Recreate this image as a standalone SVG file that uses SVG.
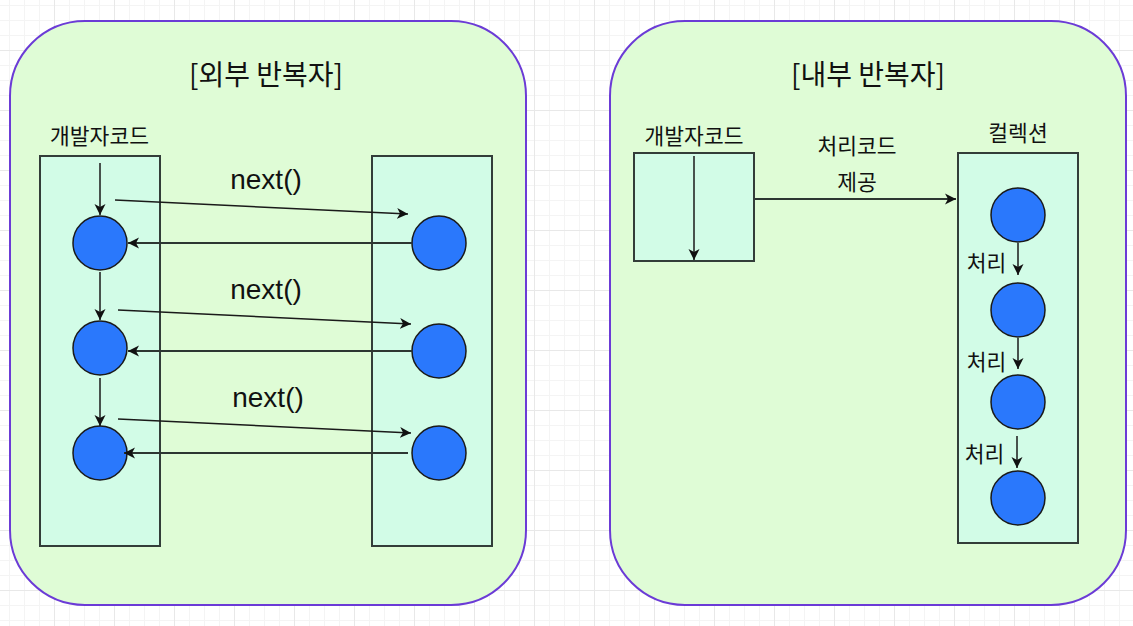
<svg xmlns="http://www.w3.org/2000/svg" width="1133" height="626" viewBox="0 0 1133 626">
<style>
.panel{fill:#dffcd6;stroke:#6b3bd6;stroke-width:2}
.box{fill:#d2fce7;stroke:#333d39;stroke-width:2}
.dot{fill:#2a78fc;stroke:#1a1a1a;stroke-width:1.5}
.kr{font-family:"Noto Sans CJK KR","Noto Sans",sans-serif;fill:#111;text-anchor:middle}
.t{font-size:28px}
.l{font-size:21.5px}
.nx{font-family:"Liberation Sans",Arial,sans-serif;font-size:28px;fill:#111;text-anchor:middle}
.c{fill:none;stroke:#1a1a1a;stroke-width:1.5;marker-end:url(#ah)}
.r{fill:none;stroke:#2d3632;stroke-width:2;marker-end:url(#ah)}
</style>
<defs>
<pattern id="grid" x="54" y="50" width="60" height="60" patternUnits="userSpaceOnUse">
<path d="M15.5,0V60M30.5,0V60M45.5,0V60M0,15.5H60M0,30.5H60M0,45.5H60" stroke="#f4f4f4" stroke-width="1" fill="none"/>
<path d="M0.5,0V60M0,0.5H60" stroke="#e8e8e8" stroke-width="1" fill="none"/>
</pattern>
<marker id="ah" viewBox="0 0 12 12" refX="11" refY="6" markerWidth="12" markerHeight="12" markerUnits="userSpaceOnUse" orient="auto">
<path d="M0,0.5 L11,6 L0,11.5 L3,6 z" fill="#111"/>
</marker>
</defs>
<rect width="1133" height="626" fill="#ffffff"/>
<rect width="1133" height="626" fill="url(#grid)"/>

<g id="panel-external"><rect class="panel" x="10" y="21" width="516" height="584" rx="75" ry="75"/></g>
<g id="panel-internal"><rect class="panel" x="610" y="21" width="516" height="584" rx="75" ry="75"/></g>

<g id="title-external"><text class="kr t" x="266" y="85">[외부 반복자]</text></g>
<g id="title-internal"><text class="kr t" x="868" y="85">[내부 반복자]</text></g>

<g id="ext-devcode">
<text class="kr l" x="99.5" y="144">개발자코드</text>
<rect class="box" x="40" y="156" width="120" height="390"/>
</g>
<g id="ext-collection"><rect class="box" x="372" y="156" width="120" height="390"/></g>

<g id="ext-dev-1"><circle class="dot" cx="100" cy="243" r="27"/></g>
<g id="ext-dev-2"><circle class="dot" cx="100" cy="348" r="27"/></g>
<g id="ext-dev-3"><circle class="dot" cx="100" cy="453" r="27"/></g>
<g id="ext-col-1"><circle class="dot" cx="439" cy="243" r="27"/></g>
<g id="ext-col-2"><circle class="dot" cx="439" cy="351" r="27"/></g>
<g id="ext-col-3"><circle class="dot" cx="439" cy="453" r="27"/></g>

<g id="int-devcode">
<text class="kr l" x="694" y="144">개발자코드</text>
<rect class="box" x="634" y="153" width="120" height="108"/>
</g>
<g id="int-collection">
<text class="kr l" x="1018" y="141">컬렉션</text>
<rect class="box" x="958" y="153" width="120" height="390"/>
</g>
<g id="int-col-1"><circle class="dot" cx="1018" cy="215" r="27"/></g>
<g id="int-col-2"><circle class="dot" cx="1018" cy="310" r="27"/></g>
<g id="int-col-3"><circle class="dot" cx="1018" cy="402" r="27"/></g>
<g id="int-col-4"><circle class="dot" cx="1018" cy="498" r="27"/></g>

<g id="connectors">
<line class="c" x1="100" y1="163" x2="100" y2="215"/>
<line class="c" x1="100" y1="272" x2="100" y2="320"/>
<line class="c" x1="100" y1="378" x2="100" y2="426"/>
<line class="c" x1="115" y1="200" x2="408" y2="214"/>
<line class="c" x1="118" y1="310" x2="411" y2="324"/>
<line class="c" x1="118" y1="419" x2="411" y2="433"/>
<line class="r" x1="412" y1="243" x2="128" y2="243"/>
<line class="r" x1="412" y1="351" x2="128" y2="351"/>
<line class="r" x1="408" y1="453" x2="124" y2="453"/>
<line class="c" x1="694" y1="156" x2="694" y2="260"/>
<line class="r" x1="755" y1="199" x2="956" y2="199"/>
<line class="c" x1="1018" y1="243" x2="1018" y2="275"/>
<line class="c" x1="1018" y1="338" x2="1018" y2="369"/>
<line class="c" x1="1017" y1="436" x2="1017" y2="468"/>
<text class="nx" x="266" y="189">next()</text>
<text class="nx" x="266" y="299">next()</text>
<text class="nx" x="268" y="407">next()</text>
<text class="kr l" x="857" y="154">처리코드</text>
<text class="kr l" x="857" y="190">제공</text>
<text class="kr l" x="986.5" y="271">처리</text>
<text class="kr l" x="986.5" y="370">처리</text>
<text class="kr l" x="984.5" y="462">처리</text>
</g>
</svg>
